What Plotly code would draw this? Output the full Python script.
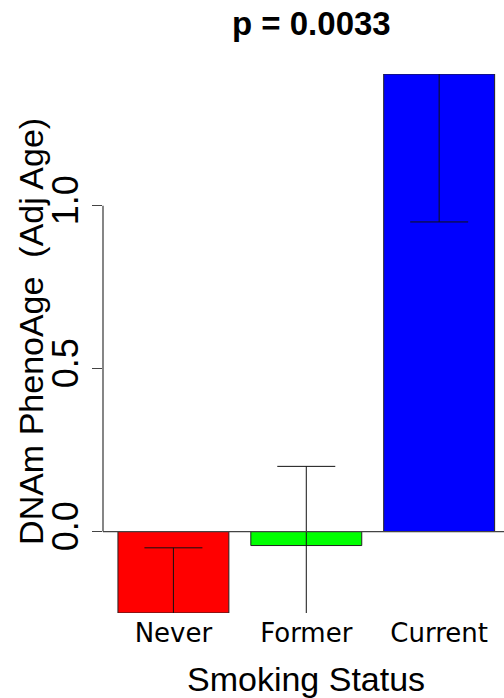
import plotly.graph_objects as go

categories = ["Never", "Former", "Current"]
means = [-0.25, -0.043, 1.404]
errors = [0.20, 0.243, 0.454]
bar_colors = ["#FF0000", "#00FF00", "#0000FF"]
y_tickvals = [0.0, 0.5, 1.0]
y_ticktext = ["0.0", "0.5", "1.0"]
title_text = "<b>p = 0.0033</b>"
x_title = "Smoking Status"
y_title = "DNAm PhenoAge\u00a0\u00a0(Adj Age)"

fig = go.Figure()
fig.add_trace(go.Bar(
    x=categories, y=means,
    marker=dict(color=bar_colors, line=dict(color="#222222", width=1)),
    error_y=dict(type="data", array=errors, symmetric=True,
                 color="#111111", thickness=1, width=29),
    showlegend=False,
))

fig.update_layout(
    width=504, height=698,
    margin=dict(l=103, r=0, t=74, b=85),
    plot_bgcolor="white", paper_bgcolor="white",
    bargap=0.165,
    font=dict(family="Liberation Sans, Arial, sans-serif", color="black"),
    xaxis=dict(
        type="category", range=[-0.53, 2.488],
        showline=False, showgrid=False, zeroline=False, ticks="",
        tickfont=dict(family="DejaVu Sans", size=26, color="black"),
        ticklabelstandoff=2,
    ),
    yaxis=dict(
        range=[-0.25, 1.404], showline=False, showgrid=False, zeroline=False,
        tickvals=y_tickvals, ticktext=y_ticktext, tickangle=-90,
        ticks="outside", ticklen=10, tickwidth=1.3, tickcolor="#444444",
        tickfont=dict(family="Liberation Sans", size=36, color="black"),
        ticklabelstandoff=0,
    ),
    shapes=[
        dict(type="line", xref="paper", yref="y", x0=0, x1=0, y0=0, y1=1,
             line=dict(color="#444444", width=1.3)),
        dict(type="line", xref="paper", yref="y", x0=0, x1=1, y0=0, y1=0,
             line=dict(color="#444444", width=1.3), layer="above"),
    ],
    annotations=[
        dict(text=title_text, xref="paper", yref="paper", x=0.521, y=1.094,
             showarrow=False, xanchor="center", yanchor="middle",
             font=dict(family="Liberation Sans", size=33, color="black")),
        dict(text=x_title, xref="paper", yref="paper", x=0.507, y=-0.122,
             showarrow=False, xanchor="center", yanchor="middle",
             font=dict(family="Liberation Sans", size=34, color="black")),
        dict(text=y_title, xref="paper", yref="paper", x=-0.18, y=0.523,
             showarrow=False, xanchor="center", yanchor="middle", textangle=-90,
             font=dict(family="Liberation Sans", size=34, color="black")),
    ],
)

fig.write_html("out.html")
